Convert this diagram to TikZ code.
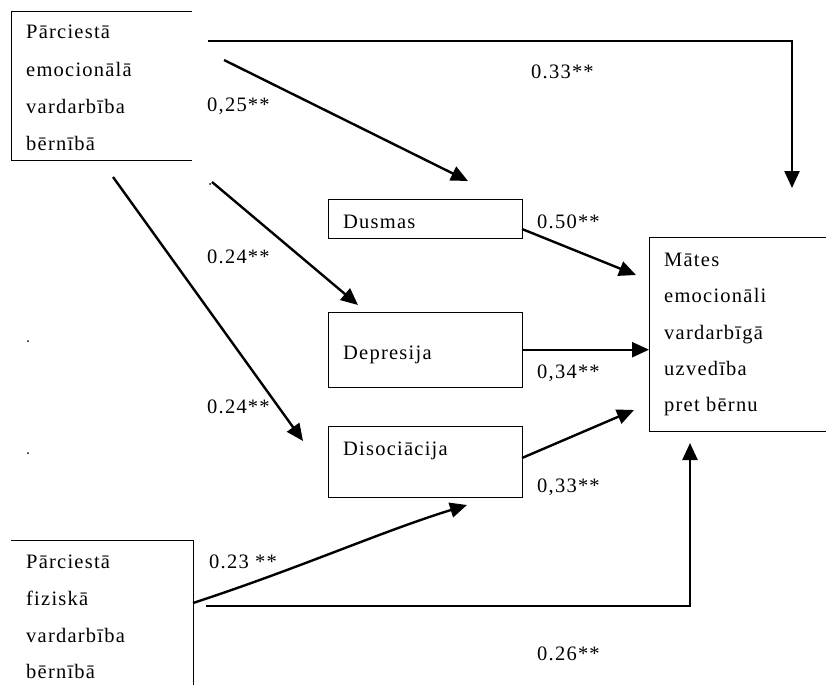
\documentclass[tikz,border=0pt]{standalone}
\usepackage{fontspec}
\setmainfont{Liberation Serif}[LetterSpace=6]
\usetikzlibrary{arrows.meta}
\begin{document}
\begin{tikzpicture}[x=1pt,y=-1pt,
  txt/.style={anchor=base west, inner sep=0pt, font=\fontsize{20.5}{22}\selectfont},
  frame/.style={line width=1pt},
  conn/.style={line width=2.4pt, -{Triangle[length=17pt,width=15pt]}},
  hold/.style={inner sep=0pt, anchor=north west}]
\useasboundingbox (0,0) rectangle (826,685);

% box areas
\node[hold, minimum width=181pt, minimum height=148pt] (emo) at (11,12) {};
\node[hold, minimum width=182pt, minimum height=145pt] (fiz) at (11,540) {};
\node[hold, minimum width=177pt, minimum height=194pt] (mat) at (649,237) {};
\node[hold, minimum width=194pt, minimum height=39pt] (dus) at (328,199) {};
\node[hold, minimum width=194pt, minimum height=75pt] (dep) at (328,312) {};
\node[hold, minimum width=194pt, minimum height=71pt] (dis) at (328,426) {};

\draw[frame] (emo.north east) -- (emo.north west) -- (emo.south west) -- (emo.south east);
\draw[frame] (fiz.north west) -- (fiz.north east) -- (fiz.south east);
\draw[frame] (mat.north east) -- (mat.north west) -- (mat.south west) -- (mat.south east);
\draw[frame] (dus.north west) rectangle (dus.south east);
\draw[frame] (dep.north west) rectangle (dep.south east);
\draw[frame] (dis.north west) rectangle (dis.south east);

% texts
\node[txt] (emo1) at (26,39) {Pārciestā};
\node[txt] (emo2) at (26,76) {emocionālā};
\node[txt] (emo3) at (26,113) {vardarbība};
\node[txt] (emo4) at (26,150) {bērnībā};

\node[txt] (fiz1) at (26,568) {Pārciestā};
\node[txt] (fiz2) at (26,605) {fiziskā};
\node[txt] (fiz3) at (26,642) {vardarbība};
\node[txt] (fiz4) at (26,678) {bērnībā};

\node[txt] (mat1) at (664,266) {Mātes};
\node[txt] (mat2) at (664,302) {emocionāli};
\node[txt] (mat3) at (664,339) {vardarbīgā};
\node[txt] (mat4) at (664,375) {uzvedība};
\node[txt] (mat5) at (664,411) {pret bērnu};

\node[txt] (dust) at (343,228) {Dusmas};
\node[txt] (dept) at (343,359) {Depresija};
\node[txt] (dist) at (343,455) {Disociācija};

% connector end points
\coordinate (tops) at (208,41);
\coordinate (tope) at (792,188);
\coordinate (a1s) at (224,60);
\coordinate (a1e) at (468,181);
\coordinate (a2s) at (212,182);
\coordinate (a2e) at (358,305);
\coordinate (a3s) at (113,177);
\coordinate (a3e) at (303,441);
\coordinate (b1s) at (522,229);
\coordinate (b1e) at (636,275);
\coordinate (b3s) at (522,458);
\coordinate (b3e) at (634,410);
\coordinate (c1s) at (193,603);
\coordinate (c1e) at (467,505);
\coordinate (bots) at (206,606);
\coordinate (bote) at (690,443);

\draw[conn] (tops) -| (tope);
\draw[conn] (a1s) -- (a1e);
\draw[conn] (a2s) -- (a2e);
\draw[conn] (a3s) -- (a3e);
\draw[conn] (b1s) -- (b1e);
\draw[conn] (dep.east) -- (dep.east -| mat.west);
\draw[conn] (b3s) -- (b3e);
\draw[conn] (c1s) .. controls (300,568) and (380,532) .. (c1e);
\draw[conn] (bots) -| (bote);

% labels
\node[txt] (l1) at (531,78) {0.33**};
\node[txt] (l2) at (207,111) {0,25**};
\node[txt] (l3) at (207,263) {0.24**};
\node[txt] (l4) at (207,413) {0.24**};
\node[txt] (l5) at (537,228) {0.50**};
\node[txt] (l6) at (537,378) {0,34**};
\node[txt] (l7) at (537,492) {0,33**};
\node[txt] (l8) at (209,568) {0.23 **};
\node[txt] (l9) at (537,660) {0.26**};

% stray specks
\fill (28,341) circle (1pt);
\fill (28,453) circle (1pt);
\fill (210,184) circle (1pt);
\end{tikzpicture}
\end{document}
